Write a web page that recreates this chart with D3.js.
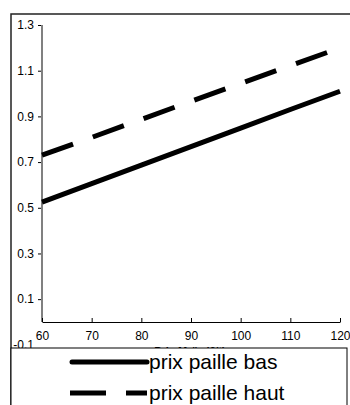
<!DOCTYPE html>
<html>
<head>
<meta charset="utf-8">
<script src="https://cdn.jsdelivr.net/npm/d3@7"></script>
<style>
  body { margin: 0; background: #fff; }
  svg { display: block; font-family: "Liberation Sans", Arial, sans-serif; }
</style>
</head>
<body>
<svg width="350" height="405"></svg>
<script>
// chart data
const prixMais = [60, 70, 80, 90, 100, 110, 120];
const pailleBas = [0.525, 0.606, 0.687, 0.768, 0.849, 0.930, 1.010];
const pailleHaut = [0.730, 0.808, 0.887, 0.966, 1.044, 1.122, 1.200];
const yTicks = [-0.1, 0.1, 0.3, 0.5, 0.7, 0.9, 1.1, 1.3];
const xTicks = [60, 70, 80, 90, 100, 110, 120];
const seriesNames = ["prix paille bas", "prix paille haut"];
const xTitle = "Prix Maïs (€/t)";

const svg = d3.select("svg");

// outer chart border
svg.append("rect")
  .attr("x", 11).attr("y", 14)
  .attr("width", 360).attr("height", 420)
  .attr("fill", "none")
  .attr("stroke", "#222")
  .attr("stroke-width", 1.5);

const x = d3.scaleLinear().domain([60, 120]).range([42, 340]);
const y = d3.scaleLinear().domain([0, 1.3]).range([322, 25]);

// y axis
const yAxis = d3.axisLeft(y)
  .tickValues(yTicks)
  .tickSize(4)
  .tickPadding(4)
  .tickFormat(d => d3.format(".1f")(d).replace("\u2212", "-"));
const gy = svg.append("g").attr("transform", "translate(42,0)").call(yAxis);
gy.select(".domain").remove();
gy.selectAll(".tick line").attr("stroke", "#000");
gy.selectAll(".tick text").attr("font-size", 12).attr("fill", "#000")
  .attr("font-family", "Liberation Sans, Arial, sans-serif");
gy.selectAll(".tick").filter(d => d < 0).select("line").remove();
svg.append("line")
  .attr("x1", 42).attr("x2", 42)
  .attr("y1", y(1.3)).attr("y2", y(0))
  .attr("stroke", "#808080").attr("stroke-width", 2);

// x axis, ticks pointing up
const xAxis = d3.axisBottom(x)
  .tickValues(xTicks)
  .tickSize(-4)
  .tickSizeOuter(0)
  .tickPadding(9);
const gx = svg.append("g").attr("transform", `translate(0,${y(0)})`).call(xAxis);
gx.select(".domain").attr("stroke", "#000");
gx.selectAll(".tick line").attr("stroke", "#000");
gx.selectAll(".tick text").attr("font-size", 12).attr("fill", "#000")
  .attr("font-family", "Liberation Sans, Arial, sans-serif");

// x axis title (mostly hidden by the legend)
svg.append("text")
  .attr("x", 190).attr("y", 355)
  .attr("text-anchor", "middle")
  .attr("font-size", 11)
  .attr("font-weight", "bold")
  .text(xTitle);

// lines
const line = d3.line().x((d, i) => x(prixMais[i])).y(d => y(d));
svg.append("path")
  .datum(pailleBas)
  .attr("d", line)
  .attr("fill", "none")
  .attr("stroke", "#000")
  .attr("stroke-width", 5);
svg.append("path")
  .datum(pailleHaut)
  .attr("d", line)
  .attr("fill", "none")
  .attr("stroke", "#000")
  .attr("stroke-width", 5)
  .attr("stroke-dasharray", "33,21");

// legend
svg.append("rect")
  .attr("x", 11).attr("y", 348)
  .attr("width", 336).attr("height", 70)
  .attr("fill", "#fff")
  .attr("stroke", "#000")
  .attr("stroke-width", 1);

const legend = svg.append("g");
const rows = legend.selectAll("g").data(seriesNames).enter().append("g")
  .attr("transform", (d, i) => `translate(0,${362 + i * 31})`);
rows.append("line")
  .attr("x1", (d, i) => i === 0 ? 72 : 70)
  .attr("x2", 147)
  .attr("stroke", "#000")
  .attr("stroke-width", 5)
  .attr("stroke-linecap", (d, i) => i === 0 ? "round" : "butt")
  .attr("stroke-dasharray", (d, i) => i === 0 ? null : "36,20");
rows.append("text")
  .attr("x", 149).attr("y", 7)
  .attr("font-size", 21)
  .text(d => d);
</script>
</body>
</html>
